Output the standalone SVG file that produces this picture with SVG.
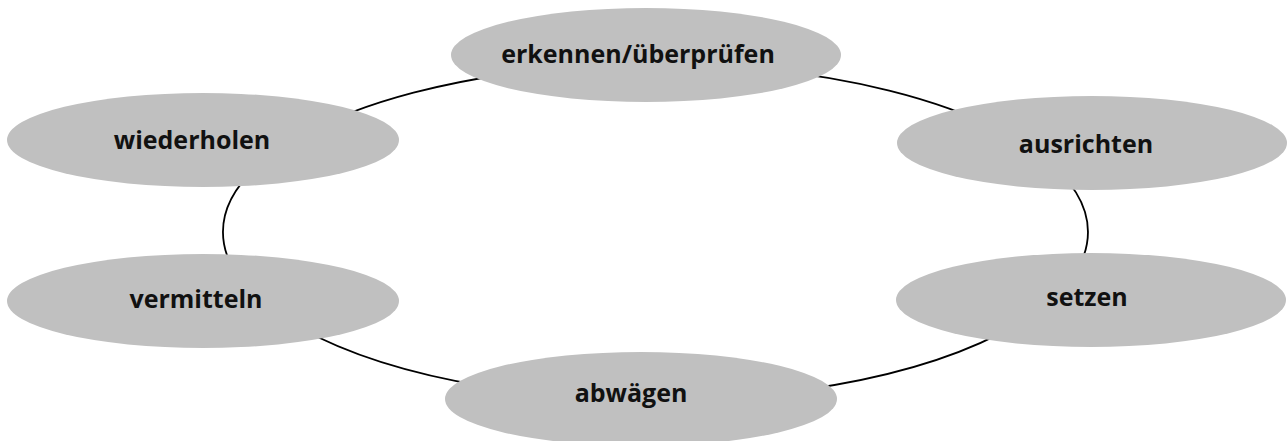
<svg xmlns="http://www.w3.org/2000/svg" width="1287" height="441" viewBox="0 0 1287 441">
  <style>
    .link { fill: none; stroke: #000; stroke-width: 1.8; }
    .node ellipse { fill: #c0c0c0; }
    .node text { font-family: "Open Sans", "Noto Sans", "Liberation Sans", sans-serif; font-weight: 700; font-size: 25px; fill: #111; text-anchor: middle; }
  </style>
  <rect width="1287" height="441" fill="#fff"/>

  <!-- cycle connectors: arcs of one large ellipse (cx 655.5, cy 232, rx 432.5, ry 168) -->
  <g id="connectors">
    <path class="link" d="M750,68 A432.5,168 0 0,1 1000,130.4"/>
    <path class="link" d="M1040,155.1 A432.5,168 0 0,1 1040,308.9"/>
    <path class="link" d="M1000,333.6 A432.5,168 0 0,1 560,395.9"/>
    <path class="link" d="M720,398 A432.5,168 0 0,1 300,327.7"/>
    <path class="link" d="M270,308.2 A432.5,168 0 0,1 270,155.8"/>
    <path class="link" d="M300,136.3 A432.5,168 0 0,1 560,68.1"/>
  </g>

  <g id="node-erkennen" class="node">
    <ellipse cx="646" cy="55" rx="195" ry="47"/>
    <text x="638" y="63">erkennen/überprüfen</text>
  </g>
  <g id="node-ausrichten" class="node">
    <ellipse cx="1092" cy="143" rx="195" ry="47"/>
    <text x="1086" y="153">ausrichten</text>
  </g>
  <g id="node-setzen" class="node">
    <ellipse cx="1091" cy="300" rx="195" ry="47"/>
    <text x="1087" y="306">setzen</text>
  </g>
  <g id="node-abwaegen" class="node">
    <ellipse cx="641" cy="399" rx="196" ry="47"/>
    <text x="631" y="402">abwägen</text>
  </g>
  <g id="node-vermitteln" class="node">
    <ellipse cx="203" cy="301" rx="196" ry="47"/>
    <text x="196" y="308">vermitteln</text>
  </g>
  <g id="node-wiederholen" class="node">
    <ellipse cx="203" cy="140" rx="196" ry="47"/>
    <text x="192" y="149">wiederholen</text>
  </g>
</svg>
